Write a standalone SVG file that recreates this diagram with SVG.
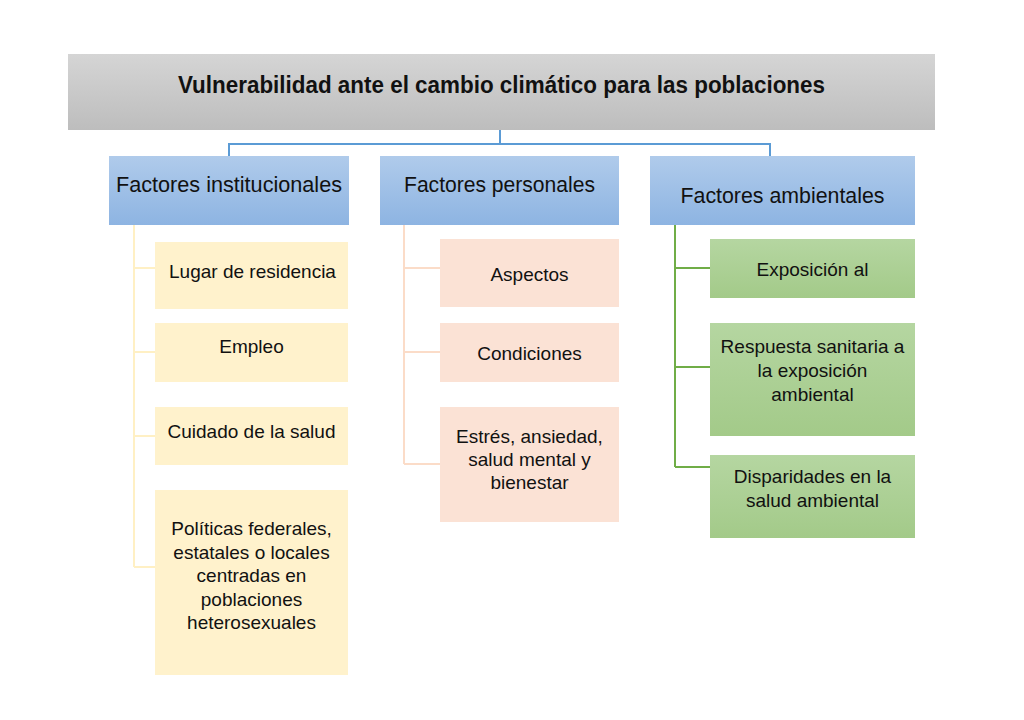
<svg xmlns="http://www.w3.org/2000/svg" width="1024" height="720" viewBox="0 0 1024 720">
  <defs>
    <linearGradient id="gGray" x1="0" y1="0" x2="0" y2="1">
      <stop offset="0" stop-color="#d5d5d5"/>
      <stop offset="1" stop-color="#bdbdbd"/>
    </linearGradient>
    <linearGradient id="gBlue" x1="0" y1="0" x2="0" y2="1">
      <stop offset="0" stop-color="#b0cbeb"/>
      <stop offset="1" stop-color="#8db4e2"/>
    </linearGradient>
    <linearGradient id="gGreen" x1="0" y1="0" x2="0" y2="1">
      <stop offset="0" stop-color="#b5d6a1"/>
      <stop offset="1" stop-color="#a3ca89"/>
    </linearGradient>
  </defs>
  <style>
    text { font-family: "Liberation Sans", Arial, sans-serif; fill: #111; text-anchor: middle; }
    .title { font-size: 23px; font-weight: bold; }
    .l1 { font-size: 22px; }
    .l2 { font-size: 19px; }
    .yellow { fill: #fff2cc; }
    .peach { fill: #fbe2d5; }
    .green { fill: url(#gGreen); }
    .blue { fill: url(#gBlue); }
    .conn { fill: none; stroke-width: 2; }
  </style>
  <rect width="1024" height="720" fill="#ffffff"/>

  <g id="connectors">
    <path class="conn" stroke="#5b9bd5" d="M500 130 V144 M229 156 V144 H770 V156"/>
    <path class="conn" stroke="#fff0c4" d="M134 225 V567 M134 268 H155 M134 352 H155 M134 436 H155 M134 567 H155"/>
    <path class="conn" stroke="#fbdcc8" d="M404 225 V464 M404 268 H440 M404 352 H440 M404 464 H440"/>
    <path class="conn" stroke="#70ad47" d="M675 225 V467 M675 268 H710 M675 367 H710 M675 467 H710"/>
  </g>

  <g id="title">
    <rect x="68" y="54" width="867" height="76" fill="url(#gGray)"/>
    <text class="title" x="501.5" y="93" textLength="647" lengthAdjust="spacingAndGlyphs">Vulnerabilidad ante el cambio climático para las poblaciones</text>
  </g>

  <g id="factores-institucionales">
    <rect class="blue" x="109" y="156" width="240" height="69"/>
    <text class="l1" x="229" y="192" textLength="226" lengthAdjust="spacingAndGlyphs">Factores institucionales</text>
  </g>
  <g id="factores-personales">
    <rect class="blue" x="380" y="156" width="239" height="69"/>
    <text class="l1" x="499.5" y="192" textLength="191" lengthAdjust="spacingAndGlyphs">Factores personales</text>
  </g>
  <g id="factores-ambientales">
    <rect class="blue" x="650" y="156" width="265" height="69"/>
    <text class="l1" x="782.5" y="203" textLength="204" lengthAdjust="spacingAndGlyphs">Factores ambientales</text>
  </g>

  <g id="lugar-residencia">
    <rect class="yellow" x="155" y="242" width="193" height="67"/>
    <text class="l2" x="252.5" y="278">Lugar de residencia</text>
  </g>
  <g id="empleo">
    <rect class="yellow" x="155" y="323" width="193" height="59"/>
    <text class="l2" x="251.5" y="353">Empleo</text>
  </g>
  <g id="cuidado-salud">
    <rect class="yellow" x="155" y="407" width="193" height="58"/>
    <text class="l2" x="251.5" y="438">Cuidado de la salud</text>
  </g>
  <g id="politicas">
    <rect class="yellow" x="155" y="490" width="193" height="185"/>
    <text class="l2" x="251.5" y="535">Políticas federales,</text>
    <text class="l2" x="251.5" y="558.5">estatales o locales</text>
    <text class="l2" x="251.5" y="582">centradas en</text>
    <text class="l2" x="251.5" y="605.5">poblaciones</text>
    <text class="l2" x="251.5" y="629">heterosexuales</text>
  </g>

  <g id="aspectos">
    <rect class="peach" x="440" y="239" width="179" height="68"/>
    <text class="l2" x="529.5" y="281">Aspectos</text>
  </g>
  <g id="condiciones">
    <rect class="peach" x="440" y="323" width="179" height="59"/>
    <text class="l2" x="529.5" y="360">Condiciones</text>
  </g>
  <g id="estres">
    <rect class="peach" x="440" y="407" width="179" height="115"/>
    <text class="l2" x="529.5" y="443">Estrés, ansiedad,</text>
    <text class="l2" x="529.5" y="466">salud mental y</text>
    <text class="l2" x="529.5" y="489">bienestar</text>
  </g>

  <g id="exposicion">
    <rect class="green" x="710" y="239" width="205" height="59"/>
    <text class="l2" x="812.5" y="276">Exposición al</text>
  </g>
  <g id="respuesta">
    <rect class="green" x="710" y="323" width="205" height="113"/>
    <text class="l2" x="812.5" y="353">Respuesta sanitaria a</text>
    <text class="l2" x="812.5" y="377">la exposición</text>
    <text class="l2" x="812.5" y="401">ambiental</text>
  </g>
  <g id="disparidades">
    <rect class="green" x="710" y="455" width="205" height="83"/>
    <text class="l2" x="812.5" y="483">Disparidades en la</text>
    <text class="l2" x="812.5" y="507">salud ambiental</text>
  </g>
</svg>
